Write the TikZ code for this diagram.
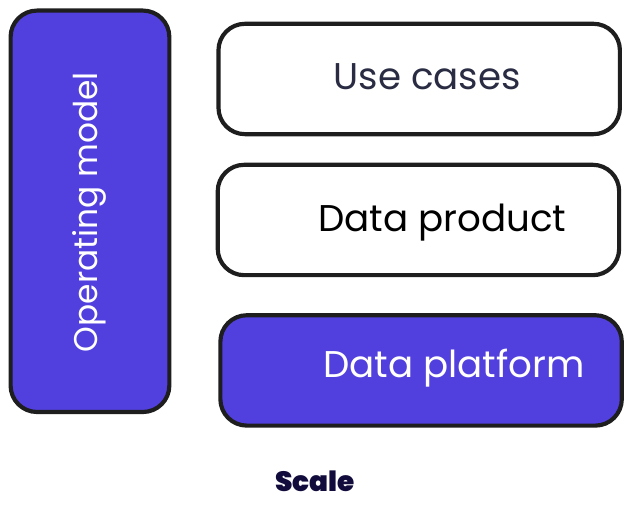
\documentclass[tikz,border=0pt]{standalone}
\usepackage{fontspec}
\setmainfont{Poppins}
\newfontfamily\scalefont{Poppins Black}
\usetikzlibrary{positioning}
\definecolor{boxblue}{RGB}{82,64,222}
\definecolor{inkdark}{RGB}{30,30,30}
\definecolor{textdark}{RGB}{41,44,66}
\definecolor{scalenavy}{RGB}{18,12,60}
\tikzset{
	layerbox/.style={draw=inkdark,line width=1.1mm,rounded corners=0.7cm,minimum width=10.62cm,minimum height=2.92cm},
	bluebox/.style={layerbox,fill=boxblue},
	whitebox/.style={layerbox,fill=white},
	boxtext/.style={font=\fontsize{28}{32}\selectfont}
}
\begin{document}
\begin{tikzpicture}[x=1cm,y=1cm]
	\useasboundingbox (0,0) rectangle (16.72,13.49);
	\node (opmodel) at (2.38,7.9) [bluebox,minimum width=4.2cm,minimum height=10.62cm] {};
	\node (usecases) at (11.09,11.4) [whitebox] {};
	\node (dataproduct) at (11.07,7.67) [whitebox] {};
	\node (dataplatform) at (11.14,3.69) [bluebox] {};

	\node (opmodeltext) at (2.36,7.88) [rotate=90,text=white,font=\fontsize{24.7}{28}\selectfont] {Operating model};
	\node (usecasestext) at (11.3,11.47) [text=textdark,boxtext] {Use cases};
	\node (dataproducttext) at (11.7,7.6) [text=black,boxtext] {Data product};
	\node (dataplatformtext) at (12.01,3.76) [text=white,boxtext] {Data platform};
	\node (scale) at (8.33,0.77) [text=scalenavy,font=\fontsize{21}{25}\selectfont\scalefont] {Scale};
\end{tikzpicture}
\end{document}
